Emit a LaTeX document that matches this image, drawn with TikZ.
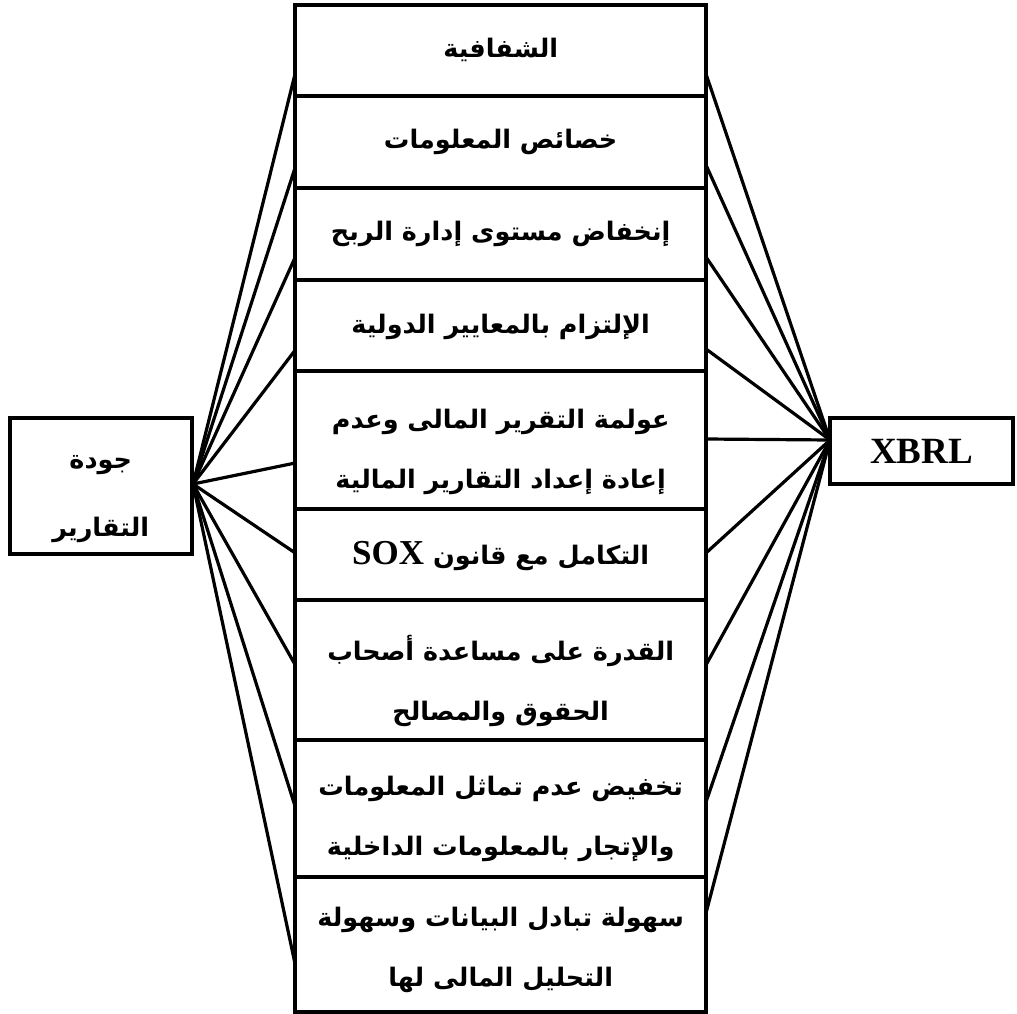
\documentclass[tikz,border=0pt]{standalone}
\usepackage{fontspec}
\TeXXeTstate=1
\newfontfamily\arabicfont[Script=Arabic,BoldFont={DejaVu Sans Bold}]{DejaVu Sans}
\newfontfamily\latinserif{Liberation Serif}
\begin{document}
\begin{tikzpicture}[x=1pt,y=-1pt,
  rowbox/.style={draw, line width=4pt, minimum width=410.7pt, inner sep=0pt, outer sep=0pt, anchor=north west},
  sidebox/.style={draw, line width=4pt, inner sep=0pt, outer sep=0pt},
  conn/.style={line width=3.2pt, line cap=round},
  txt/.style={align=center, inner sep=0pt, font=\arabicfont\bfseries\fontsize{25.5}{60}\selectfont}]
\useasboundingbox (0,0) rectangle (1017,1014);
% hubs
\coordinate (lh) at (193,484);
\coordinate (rh) at (830,440);
% endpoints on the column
\foreach \i/\ly/\ry in {1/73/74, 2/167/165, 3/257/257, 4/350/349, 5/463/439, 6/553/553, 7/665/665, 8/807/802, 9/965/913}{
  \coordinate (a\i) at (295.3,\ly);
  \coordinate (b\i) at (706,\ry);
}
\foreach \i in {1,...,9}{
  \draw[conn] (lh) -- (a\i);
  \draw[conn] (rh) -- (b\i);
}
% column rows
\node[rowbox, minimum height=91pt] (r1) at (295.3,5) {};
\node[rowbox, minimum height=92pt] (r2) at (295.3,96) {};
\node[rowbox, minimum height=92pt] (r3) at (295.3,188) {};
\node[rowbox, minimum height=91pt] (r4) at (295.3,280) {};
\node[rowbox, minimum height=138pt] (r5) at (295.3,371) {};
\node[rowbox, minimum height=91pt] (r6) at (295.3,509) {};
\node[rowbox, minimum height=140pt] (r7) at (295.3,600) {};
\node[rowbox, minimum height=137pt] (r8) at (295.3,740) {};
\node[rowbox, minimum height=134.5pt] (r9) at (295.3,877) {};
% texts
\node[txt] (t1) at (500.7,50) {\beginR الشفافية\endR};
\node[txt] (t2) at (500.7,142) {\beginR خصائص المعلومات\endR};
\node[txt] (t3) at (500.7,234) {\beginR إنخفاض مستوى إدارة الربح\endR};
\node[txt] (t4) at (500.7,327) {\beginR الإلتزام بالمعايير الدولية\endR};
\node[txt] (t5) at (500.7,452) {\beginR عولمة التقرير المالى وعدم\endR\\\beginR إعادة إعداد التقارير المالية\endR};
\node[txt] (t6) at (500.7,556) {\beginR التكامل مع قانون {\latinserif\bfseries\fontsize{35}{40}\selectfont\beginL SOX\endL}\endR};
\node[txt] (t7) at (500.7,681) {\beginR القدرة على مساعدة أصحاب\endR\\\beginR الحقوق والمصالح\endR};
\node[txt] (t8) at (500.7,819) {\beginR تخفيض عدم تماثل المعلومات\endR\\\beginR والإتجار بالمعلومات الداخلية\endR};
\node[txt] (t9) at (500.7,950) {\beginR سهولة تبادل البيانات وسهولة\endR\\\beginR التحليل المالى لها\endR};
% side boxes
\node[sidebox, minimum width=182.5pt, minimum height=136pt] (jq) at (100.75,486) {};
\node[txt, font=\arabicfont\bfseries\fontsize{25.5}{68}\selectfont] (jqt) at (100.75,499) {\beginR جودة\endR\\\beginR التقارير\endR};
\node[sidebox, minimum width=183pt, minimum height=66pt, font=\latinserif\bfseries\fontsize{37}{40}\selectfont] (xb) at (921.5,451) {XBRL};
\end{tikzpicture}
\end{document}
